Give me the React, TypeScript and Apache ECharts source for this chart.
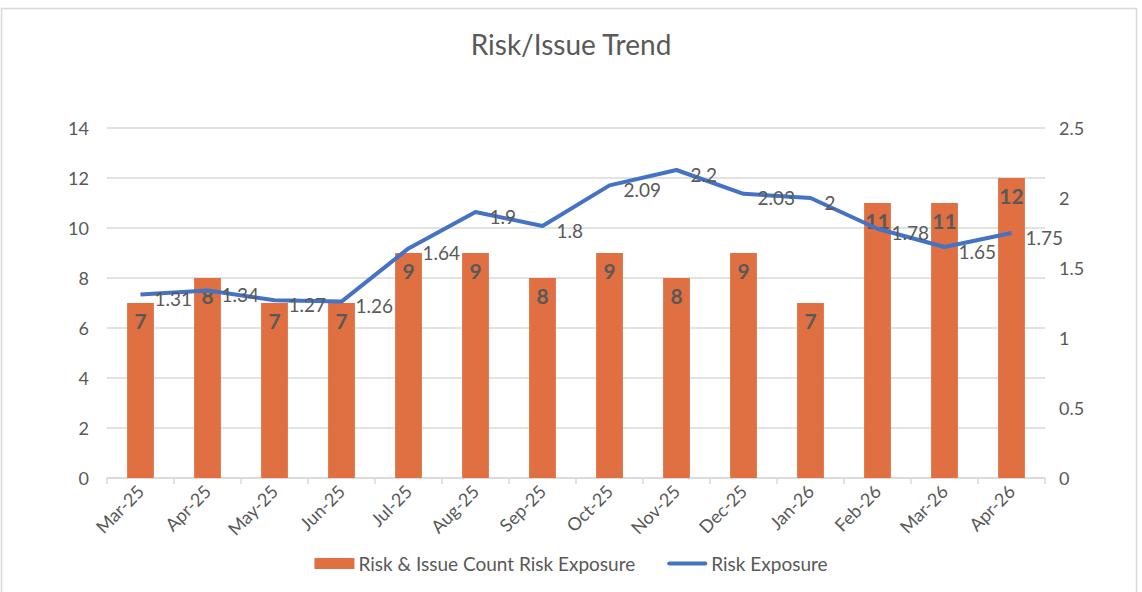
import React, { useEffect, useRef } from "react";
import * as echarts from "echarts";

const categories = ["Mar-25", "Apr-25", "May-25", "Jun-25", "Jul-25", "Aug-25", "Sep-25", "Oct-25", "Nov-25", "Dec-25", "Jan-26", "Feb-26", "Mar-26", "Apr-26"];
const issueCounts = [7, 8, 7, 7, 9, 9, 8, 9, 8, 9, 7, 11, 11, 12];
const riskExposure = [1.31, 1.34, 1.27, 1.26, 1.64, 1.9, 1.8, 2.09, 2.2, 2.03, 2, 1.78, 1.65, 1.75];
const barName = "Risk & Issue Count Risk Exposure";
const lineName = "Risk Exposure";
const titleText = "Risk/Issue Trend";

const FONT = "Lato, 'Noto Sans', sans-serif";
const TXT = "#595959";

export default function App() {
  const ref = useRef<HTMLDivElement>(null);
  useEffect(() => {
    if (!ref.current) return;
    const chart = echarts.init(ref.current, null, { renderer: "svg" });
    chart.setOption({
      animation: false,
      textStyle: { fontFamily: FONT },
      title: {
        text: titleText,
        left: "center",
        top: 25,
        textStyle: { fontFamily: FONT, fontSize: 28, fontWeight: "normal", color: TXT },
      },
      graphic: [
        {
          type: "rect",
          shape: { x: 1.5, y: 8.5, width: 1135, height: 600 },
          style: { fill: "none", stroke: "#d9d9d9", lineWidth: 1.5 },
          silent: true,
        },
      ],
      legend: {
        bottom: 14,
        left: "center",
        itemGap: 32,
        itemWidth: 40,
        itemHeight: 11,
        textStyle: { fontFamily: FONT, fontSize: 19, color: TXT, padding: [0, 0, 0, -1] },
        data: [
          { name: barName, icon: "rect" },
          { name: lineName, icon: "path://M2,0H38A2,2 0 0 1 38,4H2A2,2 0 0 1 2,0Z", itemStyle: { color: "#4472C4" } },
        ],
      },
      grid: { left: 107, right: 97, top: 128, bottom: 114, containLabel: false },
      xAxis: {
        type: "category",
        data: categories,
        axisLine: { lineStyle: { color: "#d9d9d9", width: 1.5 } },
        axisTick: { show: true, length: 6, lineStyle: { color: "#d9d9d9", width: 1.5 } },
        axisLabel: { rotate: 45, color: TXT, fontSize: 18, fontFamily: FONT, margin: 10, interval: 0 },
      },
      yAxis: [
        {
          type: "value",
          min: 0,
          max: 14,
          interval: 2,
          axisLine: { show: false },
          axisTick: { show: false },
          axisLabel: { color: TXT, fontSize: 18, fontFamily: FONT, margin: 18 },
          splitLine: { lineStyle: { color: "#d9d9d9", width: 1.5 } },
        },
        {
          type: "value",
          min: 0,
          max: 2.5,
          interval: 0.5,
          position: "right",
          axisLine: { show: false },
          axisTick: { show: false },
          axisLabel: { color: TXT, fontSize: 18, fontFamily: FONT, margin: 14 },
          splitLine: { show: false },
        },
      ],
      series: [
        {
          name: barName,
          type: "bar",
          data: issueCounts,
          barWidth: "40%",
          itemStyle: { color: "#E07041" },
          label: {
            show: true,
            position: "insideTop",
            distance: 7,
            color: TXT,
            fontSize: 21,
            fontWeight: "bold",
            fontFamily: FONT,
          },
          z: 1,
        },
        {
          name: lineName,
          type: "line",
          yAxisIndex: 1,
          data: riskExposure,
          symbol: "circle",
          symbolSize: 0.1,
          showSymbol: true,
          lineStyle: { color: "#4472C4", width: 4 },
          itemStyle: { color: "#4472C4" },
          label: {
            show: true,
            position: "right",
            distance: 14,
            offset: [0, 4],
            color: TXT,
            fontSize: 19,
            fontFamily: FONT,
          },
          z: 3,
        },
      ],
    });
    return () => chart.dispose();
  }, []);
  return (
    <div
      ref={ref}
      style={{ position: "fixed", left: 0, top: 0, width: 1142, height: 592, background: "#fff" }}
    />
  );
}
